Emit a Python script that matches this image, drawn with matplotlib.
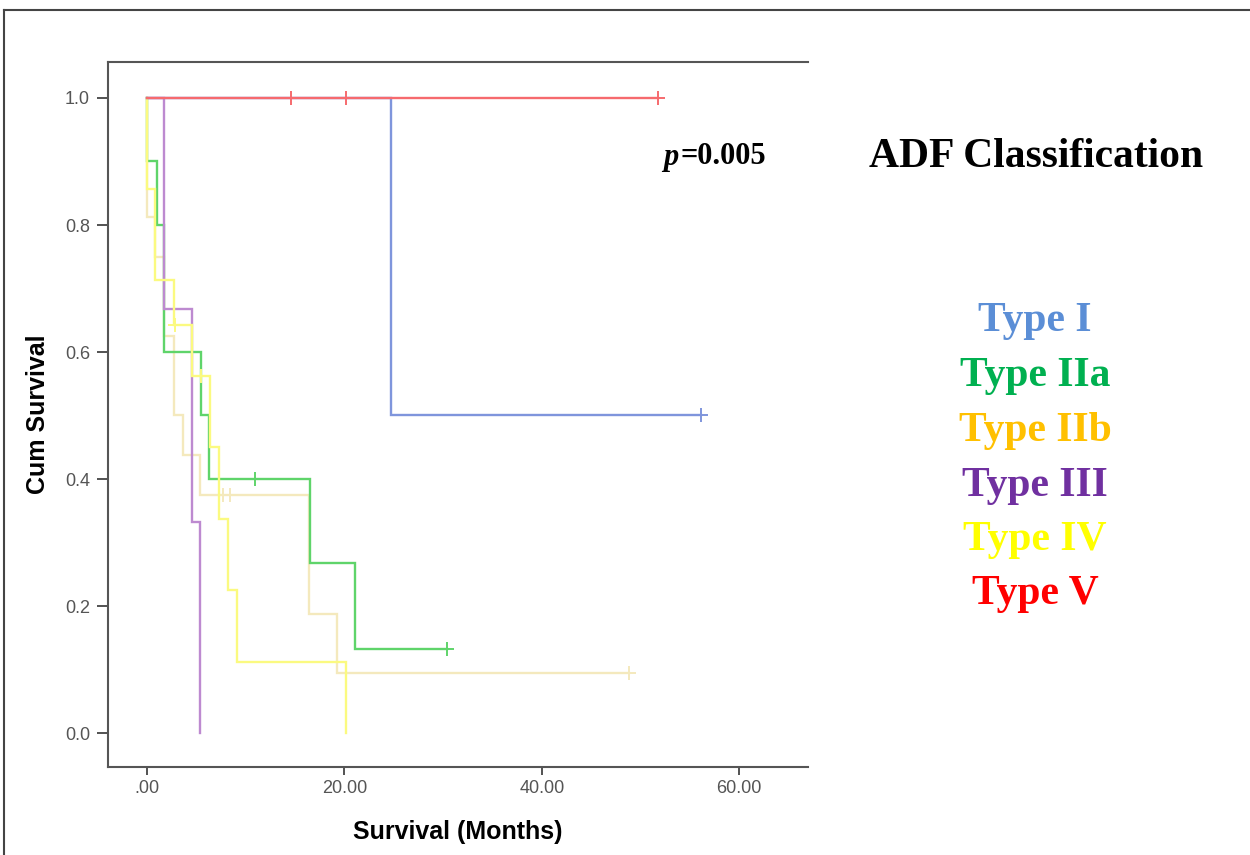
import matplotlib
matplotlib.use("Agg")
import matplotlib.pyplot as plt
from matplotlib.lines import Line2D

# ---------------- data ----------------
groups = ["Type I", "Type IIa", "Type IIb", "Type III", "Type IV", "Type V"]

# drop times (months) and survival level after each drop
t1_times = [24.7]
t1_surv = [0.5]
t1_end = 56.1
t1_cens_t = [56.1]
t1_cens_s = [0.5]

t2a_times = [0.0, 1.0, 1.7, 5.5, 6.3, 16.5, 21.1]
t2a_surv = [0.9, 0.8, 0.6, 0.5, 0.4, 0.267, 0.133]
t2a_end = 30.4
t2a_cens_t = [10.9, 30.4]
t2a_cens_s = [0.4, 0.133]

t2b_times = [0.0, 0.8, 1.7, 2.7, 3.6, 5.4, 16.4, 19.3]
t2b_surv = [0.8125, 0.75, 0.625, 0.5, 0.4375, 0.375, 0.1875, 0.094]
t2b_end = 48.8
t2b_cens_t = [7.7, 8.4, 48.8]
t2b_cens_s = [0.375, 0.375, 0.094]

t3_times = [1.7, 4.6, 5.4]
t3_surv = [0.667, 0.333, 0.0]
t3_end = 5.4
t3_cens_t = []
t3_cens_s = []

t4_times = [0.0, 0.8, 2.7, 4.6, 6.4, 7.3, 8.2, 9.1, 20.2]
t4_surv = [0.857, 0.714, 0.643, 0.5625, 0.45, 0.3375, 0.225, 0.1125, 0.0]
t4_end = 20.2
t4_cens_t = [2.8, 5.5]
t4_cens_s = [0.643, 0.5625]

t5_times = []
t5_surv = []
t5_end = 51.8
t5_cens_t = [14.6, 20.2, 51.8]
t5_cens_s = [1.0, 1.0, 1.0]

x_ticks = [0, 20, 40, 60]
x_ticklabels = [".00", "20.00", "40.00", "60.00"]
y_ticks = [0.0, 0.2, 0.4, 0.6, 0.8, 1.0]
y_ticklabels = ["0.0", "0.2", "0.4", "0.6", "0.8", "1.0"]

p_text = "=0.005"
title_text = "ADF Classification"

# ---------------- styles ----------------
line_colors = {
    "Type I": "#7f95dc",
    "Type IIa": "#5fd46a",
    "Type IIb": "#f4e9bd",
    "Type III": "#bd8ad0",
    "Type IV": "#fbfa80",
    "Type V": "#f66a6e",
}
legend_colors = {
    "Type I": "#5b8ed6",
    "Type IIa": "#00b050",
    "Type IIb": "#ffc000",
    "Type III": "#7030a0",
    "Type IV": "#ffff00",
    "Type V": "#ff0000",
}

fig = plt.figure(figsize=(12.5, 8.55), dpi=100)
W, H = 1250, 855
ax_l, ax_r, ax_t, ax_b = 108, 808, 62, 767
ax = fig.add_axes([ax_l / W, 1 - ax_b / H, (ax_r - ax_l) / W, (ax_b - ax_t) / H])

# pixel mapping used to read the data: x0=147 px, 9.87 px/month ; y: 1.0 at 98 px, 0 at 733 px
ax.set_xlim((ax_l - 147) / 9.87, (ax_r - 147) / 9.87)
ax.set_ylim((733 - ax_b) / 635.0, (733 - ax_t) / 635.0)

def km(times, surv, end):
    xs = [0.0] + list(times) + [end]
    ys = [1.0] + list(surv) + [surv[-1] if surv else 1.0]
    return xs, ys

series = [
    ("Type IIb", t2b_times, t2b_surv, t2b_end, t2b_cens_t, t2b_cens_s),
    ("Type IIa", t2a_times, t2a_surv, t2a_end, t2a_cens_t, t2a_cens_s),
    ("Type III", t3_times, t3_surv, t3_end, t3_cens_t, t3_cens_s),
    ("Type IV", t4_times, t4_surv, t4_end, t4_cens_t, t4_cens_s),
    ("Type I", t1_times, t1_surv, t1_end, t1_cens_t, t1_cens_s),
    ("Type V", t5_times, t5_surv, t5_end, t5_cens_t, t5_cens_s),
]
for z, (name, tt, ss, end, ct, cs) in enumerate(series):
    xs, ys = km(tt, ss, end)
    ax.plot(xs, ys, drawstyle="steps-post", color=line_colors[name], lw=1.7,
            solid_joinstyle="miter", zorder=2 + z)
    if ct:
        ax.plot(ct, cs, linestyle="none", marker="+", markersize=10, markeredgewidth=1.4,
                color=line_colors[name], zorder=2 + z)

# axes styling
ax.spines["right"].set_visible(False)
for s in ["left", "top", "bottom"]:
    ax.spines[s].set_color("#555555")
    ax.spines[s].set_linewidth(1.5)
ax.set_xticks(x_ticks)
ax.set_xticklabels(x_ticklabels)
ax.set_yticks(y_ticks)
ax.set_yticklabels(y_ticklabels)
ax.tick_params(axis="both", direction="out", color="#444444", width=1.3,
               labelcolor="#555555", labelsize=13)
ax.tick_params(axis="x", length=6, pad=3)
ax.tick_params(axis="y", length=8, pad=5)
for lab in ax.get_xticklabels() + ax.get_yticklabels():
    lab.set_family("Liberation Sans")

ax.set_xlabel("Survival (Months)", fontsize=18, fontweight="bold", family="Liberation Sans",
              labelpad=17)
ax.set_ylabel("Cum Survival", fontsize=18, fontweight="bold", family="Liberation Sans",
              labelpad=11)

# p value
fig.text(663 / W, 1 - 157 / H, "p", fontsize=22, style="italic", fontweight="bold",
         family="Liberation Serif", va="center", ha="left")
fig.text(680 / W, 1 - 157 / H, p_text, fontsize=22, fontweight="bold",
         family="Liberation Serif", va="center", ha="left")

# title and legend text
fig.text(1036 / W, 1 - 157 / H, title_text, fontsize=30, fontweight="bold",
         family="Liberation Serif", va="center", ha="center")
legend_y = [321, 376, 431, 486, 540, 594]
for name, yy in zip(groups, legend_y):
    fig.text(1035 / W, 1 - yy / H, name, fontsize=30, fontweight="bold",
             family="Liberation Serif", va="center", ha="center", color=legend_colors[name])

# outer frame
fig.add_artist(Line2D([4 / W, 1.0], [1 - 10 / H, 1 - 10 / H], transform=fig.transFigure,
                      color="#444444", lw=1.5))
fig.add_artist(Line2D([4 / W, 4 / W], [0.0, 1 - 10 / H], transform=fig.transFigure,
                      color="#444444", lw=1.5))

fig.savefig("out.png", dpi=100)
